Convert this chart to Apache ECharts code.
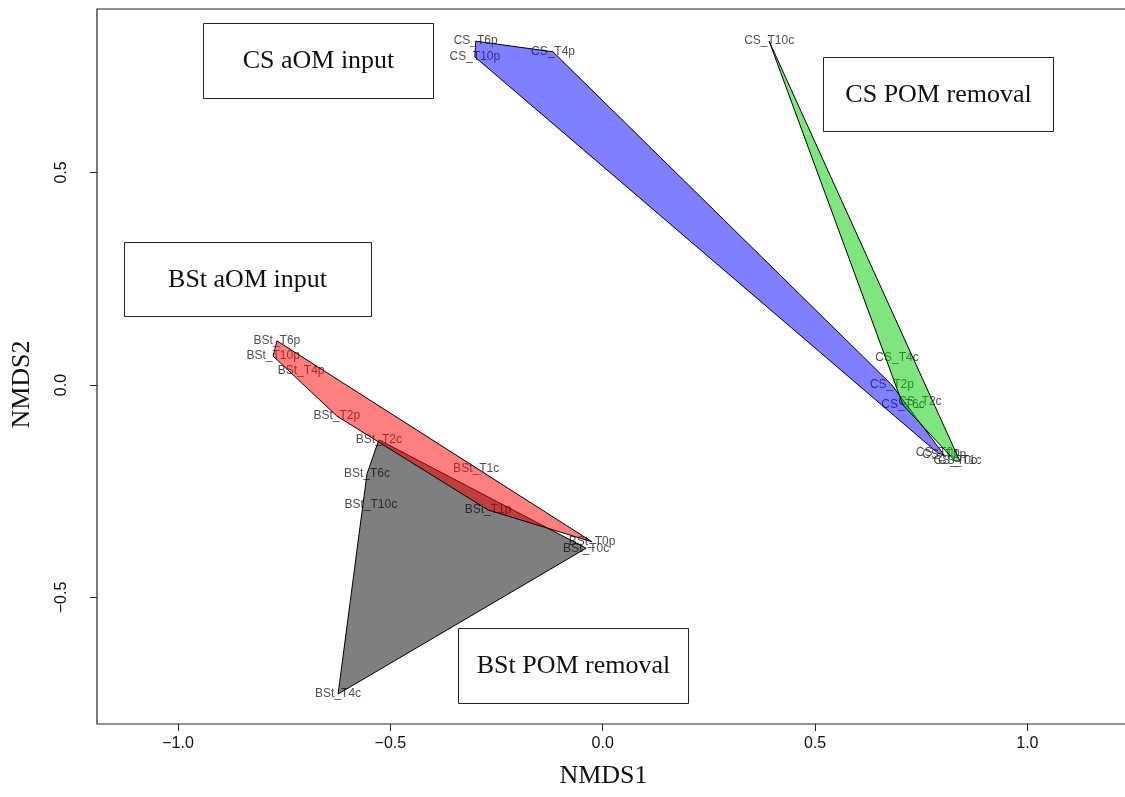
<!DOCTYPE html>
<html>
<head>
<meta charset="utf-8">
<script src="https://cdn.jsdelivr.net/npm/echarts@6/dist/echarts.min.js"></script>
<style>
html,body{margin:0;padding:0;background:#fff;}
#main{width:1125px;height:797px;}
</style>
</head>
<body>
<div id="main"></div>
<script>
// ---- data ----
const pointNames = [
  'BSt_T6p','BSt_T10p','BSt_T4p','BSt_T2p','BSt_T2c','BSt_T1c','BSt_T1p','BSt_T0p','BSt_T0c','BSt_T6c','BSt_T10c','BSt_T4c',
  'CS_T6p','CS_T10p','CS_T4p','CS_T2p','CS_T0p','CS_T1p','CS_T10c','CS_T4c','CS_T6c','CS_T2c','CS_T0c','CS_T1c'
];
const nmds1 = [
  -0.767,-0.776,-0.710,-0.626,-0.527,-0.298,-0.270,-0.025,-0.039,-0.555,-0.546,-0.623,
  -0.299,-0.301,-0.117,0.681,0.789,0.804,0.392,0.693,0.707,0.747,0.830,0.841
];
const nmds2 = [
  0.104,0.068,0.033,-0.073,-0.129,-0.198,-0.294,-0.369,-0.384,-0.209,-0.282,-0.727,
  0.809,0.772,0.784,0.000,-0.160,-0.165,0.809,0.064,-0.047,-0.040,-0.179,-0.179
];
const groupNames = ['BSt POM removal','BSt aOM input','CS aOM input','CS POM removal'];
const groupMembers = [
  ['BSt_T2c','BSt_T6c','BSt_T10c','BSt_T4c','BSt_T0c'],
  ['BSt_T6p','BSt_T10p','BSt_T4p','BSt_T2p','BSt_T2c','BSt_T1c','BSt_T1p','BSt_T0p'],
  ['CS_T6p','CS_T10p','CS_T4p','CS_T2p','CS_T0p','CS_T1p'],
  ['CS_T10c','CS_T4c','CS_T6c','CS_T2c','CS_T0c','CS_T1c']
];
const groupColors = ['rgba(0,0,0,0.5)','rgba(255,0,0,0.5)','rgba(0,0,255,0.5)','rgba(0,205,0,0.5)'];
const xTicks = [-1.0,-0.5,0.0,0.5,1.0];
const yTicks = [-0.5,0.0,0.5];

// ---- helpers ----
function hull(pts){
  const p = pts.slice().sort((a,b)=>a[0]-b[0]||a[1]-b[1]);
  const cross=(o,a,b)=>(a[0]-o[0])*(b[1]-o[1])-(a[1]-o[1])*(b[0]-o[0]);
  const lower=[],upper=[];
  for(const q of p){while(lower.length>=2&&cross(lower[lower.length-2],lower[lower.length-1],q)<=0)lower.pop();lower.push(q);}
  for(let i=p.length-1;i>=0;i--){const q=p[i];while(upper.length>=2&&cross(upper[upper.length-2],upper[upper.length-1],q)<=0)upper.pop();upper.push(q);}
  upper.pop();lower.pop();
  return lower.concat(upper);
}
function coordsOf(name){const i=pointNames.indexOf(name);return [nmds1[i],nmds2[i]];}
const hulls = groupMembers.map(m=>hull(m.map(coordsOf)));
const fmt = v => (v.toFixed(1)).replace('-','\u2212');

const chart = echarts.init(document.getElementById('main'),null,{renderer:'canvas'});

const hullSeries = hulls.map((h,gi)=>({
  type:'custom',
  name:groupNames[gi],
  z:3,
  silent:true,
  data:[[gi]],
  renderItem:function(params,api){
    const pts = h.map(p=>api.coord(p));
    return {type:'polygon',shape:{points:pts},
      style:{fill:groupColors[gi],stroke:'#000',lineWidth:1}};
  }
}));

const option = {
  animation:false,
  backgroundColor:'#fff',
  grid:{left:97,top:9,width:1035,height:715,show:true,borderColor:'#222',borderWidth:1.2,
        backgroundColor:'transparent',containLabel:false,outerBoundsMode:'none'},
  xAxis:{
    type:'value',min:-1.1907,max:1.2463,
    name:'NMDS1',nameLocation:'middle',nameGap:39,
    nameTextStyle:{fontFamily:'Liberation Serif',fontSize:26,color:'#111',padding:[0,22,0,0]},
    axisLine:{show:false,onZero:false},splitLine:{show:false},
    axisTick:{show:true,inside:false,length:7,customValues:xTicks,lineStyle:{color:'#222'}},
    axisLabel:{customValues:xTicks,formatter:fmt,fontFamily:'Liberation Sans',fontSize:16,color:'#111',margin:12}
  },
  yAxis:{
    type:'value',min:-0.7976,max:0.8847,
    name:'NMDS2',nameLocation:'middle',nameGap:62,nameRotate:90,
    nameTextStyle:{fontFamily:'Liberation Serif',fontSize:26,color:'#111',padding:[0,36,0,0]},
    axisLine:{show:false,onZero:false},splitLine:{show:false},
    axisTick:{show:true,inside:false,length:7,customValues:yTicks,lineStyle:{color:'#222'}},
    axisLabel:{customValues:yTicks,formatter:fmt,rotate:90,fontFamily:'Liberation Sans',fontSize:16,color:'#111',margin:27}
  },
  series:[
    {
      type:'scatter',z:1,silent:true,
      symbolSize:1,itemStyle:{color:'rgba(0,0,0,0)'},
      data:pointNames.map((n,i)=>[nmds1[i],nmds2[i],n]),
      label:{show:true,position:'inside',formatter:p=>p.value[2],
        fontFamily:'Liberation Sans',fontSize:12,color:'#222'},
      labelLayout:{hideOverlap:false}
    }
  ].concat(hullSeries),
  graphic:[
    {type:'group',left:203,top:23,children:[
      {type:'rect',shape:{x:0,y:0,width:230,height:75},style:{fill:'#fff',stroke:'#222',lineWidth:1}},
      {type:'text',x:115,y:38,style:{text:'CS aOM input',fill:'#111',font:'26px "Liberation Serif"',align:'center',verticalAlign:'middle'}}
    ]},
    {type:'group',left:823,top:57,children:[
      {type:'rect',shape:{x:0,y:0,width:230,height:74},style:{fill:'#fff',stroke:'#222',lineWidth:1}},
      {type:'text',x:115,y:38,style:{text:'CS POM removal',fill:'#111',font:'26px "Liberation Serif"',align:'center',verticalAlign:'middle'}}
    ]},
    {type:'group',left:124,top:242,children:[
      {type:'rect',shape:{x:0,y:0,width:247,height:74},style:{fill:'#fff',stroke:'#222',lineWidth:1}},
      {type:'text',x:123,y:38,style:{text:'BSt aOM input',fill:'#111',font:'26px "Liberation Serif"',align:'center',verticalAlign:'middle'}}
    ]},
    {type:'group',left:458,top:628,children:[
      {type:'rect',shape:{x:0,y:0,width:230,height:75},style:{fill:'#fff',stroke:'#222',lineWidth:1}},
      {type:'text',x:115,y:38,style:{text:'BSt POM removal',fill:'#111',font:'26px "Liberation Serif"',align:'center',verticalAlign:'middle'}}
    ]}
  ]
};
chart.setOption(option);
</script>
</body>
</html>
